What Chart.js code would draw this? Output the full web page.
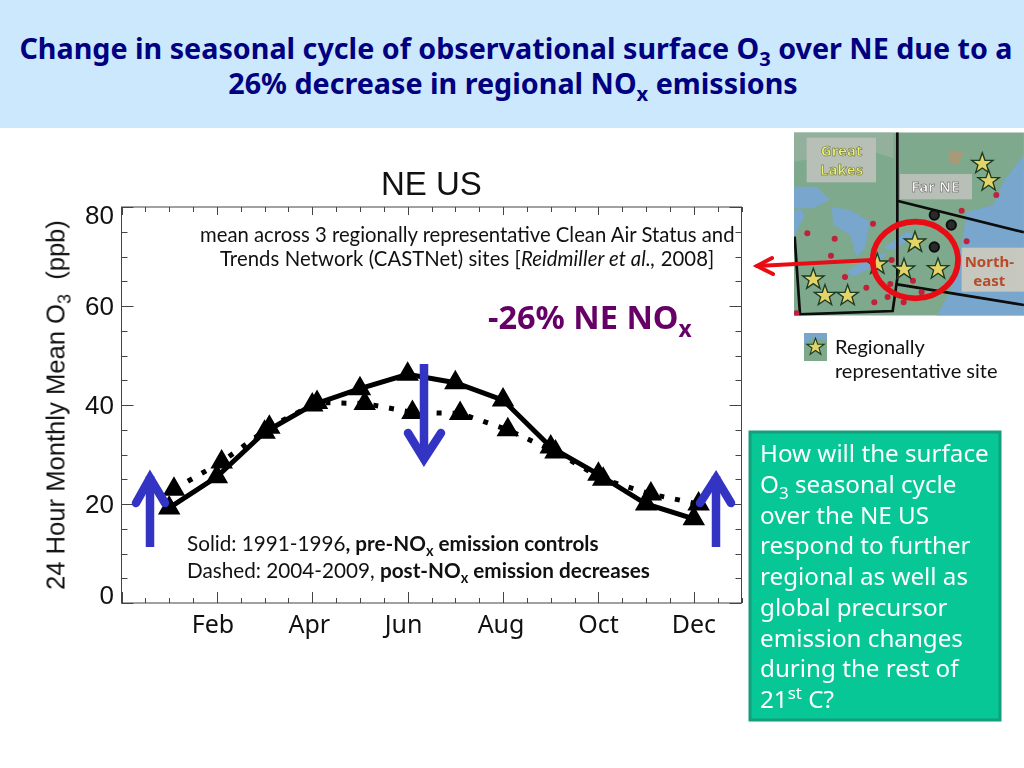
<!DOCTYPE html>
<html lang="en">
  <head>
    <meta charset="UTF-8" />
    <title>NE US surface O3</title>
    <script src="https://cdn.jsdelivr.net/npm/chart.js"></script>
    <style>
      html, body { margin: 0; padding: 0; background: #fff; overflow: hidden; }
      #page { position: relative; width: 1024px; height: 768px; overflow: hidden; }
      #page div.t { position: absolute; white-space: nowrap; }
      #header { position: absolute; left: 0; top: 0; width: 1024px; height: 128px; background: #cce8fc; }
      #chartCanvas, #overlay { position: absolute; left: 0; top: 0; }
      .title { left: 0; width: 1032px; text-align: center; font: bold 28.7px "Noto Sans", sans-serif; color: #000080; }
      .note { font: 20.3px Lato, sans-serif; color: #111; }
      .note2 { font: 20.7px Lato, sans-serif; color: #111; }
      .legend { font: 20px Lato, sans-serif; color: #111; }
      .box { font: 24.2px "Noto Sans", sans-serif; color: #fff; left: 760px; }
      sub, sup { font-size: 70%; line-height: 0; }
    </style>
  </head>
  <body>
    <div id="page">
      <div id="header"></div>
      <div class="t title" style="top: 28px">Change in seasonal cycle of observational surface O<sub>3</sub> over NE due to a</div>
      <div class="t title" style="top: 63px; width: 1026px">26% decrease in regional NO<sub>x</sub> emissions</div>

      <canvas id="chartCanvas" width="1024" height="768"></canvas>

      <div class="t" style="left: 381px; top: 165px; font: 33px 'Liberation Sans', sans-serif; color: #111">NE US</div>
      <div class="t" style="left: 56px; top: 405px; transform: translate(-50%, -50%) rotate(-90deg); font: 25.6px 'Liberation Sans', sans-serif; color: #111">24 Hour Monthly Mean O<sub>3</sub>&nbsp; (ppb)</div>

      <div class="t note" style="left: 200px; top: 222px">mean across 3 regionally representative Clean Air Status and</div>
      <div class="t note" style="left: 220px; top: 246px; letter-spacing: 0.09px">Trends Network (CASTNet) sites [<i>Reidmiller et al.,</i> 2008]</div>
      <div class="t" style="left: 488px; top: 294px; font: bold 32.5px 'Noto Sans', sans-serif; color: #660066">-26% NE NO<sub>x</sub></div>
      <div class="t note2" style="left: 187px; top: 531px">Solid: 1991-1996<b>, pre-NO<sub>x</sub> emission controls</b></div>
      <div class="t note2" style="left: 187px; top: 558px">Dashed: 2004-2009, <b>post-NO<sub>x</sub> emission decreases</b></div>

      <svg id="overlay" width="1024" height="768" xmlns="http://www.w3.org/2000/svg">
        <defs>
          <polygon id="star" points="0,-33 8,-10 32,-10 13,4 20,27 0,13 -20,27 -13,4 -32,-10 -8,-10" fill="#e4d468" stroke="#1c3a20" stroke-width="4" />
          <clipPath id="mapClip"><rect x="132" y="22" width="690" height="550" /></clipPath>
          <filter id="soft"><feGaussianBlur stdDeviation="1.6" /></filter>
        </defs>
        <!-- blue arrows on the plot -->
        <g fill="none" stroke="#3333c4" stroke-width="8.5" stroke-linecap="round" stroke-linejoin="miter">
          <path d="M150 547 V476" stroke-linecap="butt" />
          <path d="M136 503 L150 478 L165 503" />
          <path d="M716 547 V476" stroke-linecap="butt" />
          <path d="M700 503 L716 478 L731 503" />
          <path d="M424 364 V458" stroke-linecap="butt" />
          <path d="M408 433 L424 459 L441 433" />
        </g>
        <!-- map inset, drawn in 3x crop units -->
        <g transform="translate(750 125) scale(0.3333)" clip-path="url(#mapClip)">
          <g filter="url(#soft)">
            <rect x="132" y="22" width="690" height="550" fill="#7ea98d" />
            <path d="M132 22 H430 V100 L340 70 L250 90 L132 110 Z" fill="#93b09c" />
            <path d="M132 185 L200 185 L240 225 L190 250 L132 250 Z M132 335 L165 270 L150 250 L132 260 Z" fill="#78a6cc" />
            <path d="M245 245 L300 255 L360 290 L345 370 L320 395 L300 330 L250 300 Z" fill="#78a6cc" />
            <path d="M290 440 L370 390 L410 385 L380 420 L310 455 Z M400 370 L470 320 L500 330 L430 375 Z" fill="#78a6cc" />
            <path d="M822 90 L760 170 L730 240 L650 260 L640 330 L620 420 L600 500 L560 572 H822 Z" fill="#78a6cc" />
            <path d="M640 80 L600 75 L595 110 L625 120 Z" fill="#a89a78" />
            <rect x="170" y="38" width="208" height="134" fill="#b8bfb6" />
            <rect x="450" y="147" width="216" height="76" fill="#b8bfb6" />
            <rect x="635" y="368" width="187" height="132" fill="#c6c8c0" />
            <g fill="none" stroke="#0a0a0a" stroke-width="8">
              <path d="M442 22 V460 L428 558 L150 568 L134 335" />
              <path d="M444 228 L822 322" />
              <path d="M442 478 L822 540" />
            </g>
            <g fill="#c0203a">
              <circle cx="172" cy="325" r="9" /><circle cx="254" cy="341" r="9" /><circle cx="369" cy="296" r="9" />
              <circle cx="243" cy="392" r="9" /><circle cx="285" cy="456" r="9" /><circle cx="349" cy="488" r="9" />
              <circle cx="373" cy="532" r="9" /><circle cx="413" cy="516" r="9" /><circle cx="425" cy="405" r="9" />
              <circle cx="421" cy="477" r="9" /><circle cx="489" cy="467" r="9" /><circle cx="515" cy="502" r="9" />
              <circle cx="461" cy="532" r="9" /><circle cx="139" cy="565" r="9" /><circle cx="635" cy="257" r="9" />
              <circle cx="739" cy="210" r="9" /><circle cx="650" cy="349" r="9" />
            </g>
            <g fill="#2a2a2a" stroke="#111" stroke-width="6">
              <circle cx="553" cy="270" r="14" /><circle cx="604" cy="300" r="14" /><circle cx="553" cy="366" r="14" />
            </g>
            <use href="#star" x="697" y="116" /><use href="#star" x="716" y="168" />
            <use href="#star" x="495" y="352" /><use href="#star" x="462" y="433" />
            <use href="#star" x="564" y="432" /><use href="#star" x="382" y="418" />
            <use href="#star" x="190" y="463" /><use href="#star" x="225" y="512" /><use href="#star" x="293" y="512" />
          </g>
          <g font-family="Noto Sans" font-weight="bold" font-size="45" text-anchor="middle">
            <text x="275" y="92" fill="#eef070" stroke="#55603a" stroke-width="1.5">Great</text>
            <text x="275" y="150" fill="#eef070" stroke="#55603a" stroke-width="1.5">Lakes</text>
            <text x="556" y="202" fill="#f8f8f8" stroke="#555" stroke-width="1.5">Far NE</text>
            <text x="718" y="427" fill="#b84a28">North-</text>
            <text x="718" y="482" fill="#b84a28">east</text>
          </g>
          <ellipse cx="496" cy="405" rx="128" ry="115" fill="none" stroke="#e80c14" stroke-width="17" />
        </g>
        <!-- red arrow from the map -->
        <g fill="none" stroke="#e80c14" stroke-width="4" stroke-linecap="round">
          <path d="M757 266 L872 260" />
          <path d="M772 258 L757 266 L773 274" />
        </g>
        <!-- legend swatch -->
        <rect x="804" y="333" width="23" height="28" fill="#7ea98d" />
        <path d="M804 333 H827 V340 L812 338 L804 345 Z" fill="#78a6cc" />
        <g transform="translate(815.5 347) scale(0.27)"><use href="#star" /></g>
        <!-- green panel -->
        <rect x="750" y="432" width="250" height="288" fill="#06c795" stroke="#12a07c" stroke-width="3" />
      </svg>

      <div class="t legend" style="left: 835px; top: 334px">Regionally</div>
      <div class="t legend" style="left: 835px; top: 358px">representative site</div>

      <div class="t box" style="top: 436px">How will the surface</div>
      <div class="t box" style="top: 467px">O<sub>3</sub> seasonal cycle</div>
      <div class="t box" style="top: 498px">over the NE US</div>
      <div class="t box" style="top: 528px">respond to further</div>
      <div class="t box" style="top: 559px">regional as well as</div>
      <div class="t box" style="top: 590px">global precursor</div>
      <div class="t box" style="top: 621px">emission changes</div>
      <div class="t box" style="top: 651px">during the rest of</div>
      <div class="t box" style="top: 682px">21<sup>st</sup> C?</div>
    </div>

    <script>
      const monthNames = ["Jan", "Feb", "Mar", "Apr", "May", "Jun", "Jul", "Aug", "Sep", "Oct", "Nov", "Dec"];
      const monthsPre = [1, 2, 3, 4, 5, 6, 7, 8, 9, 10, 11, 12];
      const monthsPost = [1.1, 2.1, 3.1, 4.1, 5.1, 6.1, 7.1, 8.1, 9.1, 10.1, 11.1, 12.1];
      const preNox = [19.2, 25.5, 34.5, 40, 43.3, 46.2, 44.5, 41, 31.5, 26, 20, 17];
      const postNox = [23, 28.5, 35.5, 40.5, 40.3, 38.5, 38.3, 35, 30.5, 25, 22, 20];

      function toPoints(xs, ys) {
        return xs.map((x, i) => ({ x: x, y: ys[i] }));
      }

      // frame, inward ticks and the hand-nudged axis labels of the original
      const axisFrame = {
        id: "axisFrame",
        afterDraw(chart) {
          const c = chart.ctx;
          const a = chart.chartArea;
          c.save();
          c.strokeStyle = "#444";
          c.lineWidth = 1;
          c.strokeRect(a.left, a.top, a.right - a.left, a.bottom - a.top);
          c.beginPath();
          chart.scales.x.ticks.forEach((t) => {
            const px = Math.round(chart.scales.x.getPixelForValue(t.value)) + 0.5;
            const major = t.value % 2 === 0;
            c.moveTo(px, a.bottom);
            c.lineTo(px, a.bottom - (major ? 11 : 5));
            c.moveTo(px, a.top);
            c.lineTo(px, a.top + (major ? 8 : 5));
          });
          chart.scales.y.ticks.forEach((t) => {
            const py = Math.round(chart.scales.y.getPixelForValue(t.value)) + 0.5;
            const major = t.value % 20 === 0;
            c.moveTo(a.left, py);
            c.lineTo(a.left + (major ? 12 : 6), py);
            c.moveTo(a.right, py);
            c.lineTo(a.right - (major ? 12 : 6), py);
          });
          c.stroke();

          c.fillStyle = "#111";
          c.textBaseline = "middle";
          c.font = '26px "Liberation Sans", sans-serif';
          c.textAlign = "right";
          const yNudge = { 80: 10, 60: 2, 40: 2, 20: 2, 0: -6 };
          chart.scales.y.ticks.forEach((t) => {
            if (t.label) c.fillText(t.label, 114, chart.scales.y.getPixelForValue(t.value) + yNudge[t.value]);
          });
          c.font = '25px "Noto Sans", sans-serif';
          c.textAlign = "center";
          const xNudge = { 2: -4, 4: -3, 6: -4, 8: -2, 10: 0, 12: 0 };
          chart.scales.x.ticks.forEach((t) => {
            if (t.label) c.fillText(t.label, chart.scales.x.getPixelForValue(t.value) + xNudge[t.value], 626);
          });
          c.restore();
        },
      };

      new Chart(document.getElementById("chartCanvas"), {
        type: "line",
        plugins: [axisFrame],
        data: {
          datasets: [
            {
              label: "Solid: 1991-1996, pre-NOx emission controls",
              data: toPoints(monthsPre, preNox),
              borderColor: "#000",
              backgroundColor: "#000",
              borderWidth: 5,
              pointStyle: "triangle",
              pointRadius: 8,
              tension: 0,
            },
            {
              label: "Dashed: 2004-2009, post-NOx emission decreases",
              data: toPoints(monthsPost, postNox),
              borderColor: "#000",
              backgroundColor: "#000",
              borderWidth: 5,
              borderDash: [5, 11],
              pointStyle: "triangle",
              pointRadius: 8,
              tension: 0,
            },
          ],
        },
        options: {
          responsive: false,
          animation: false,
          layout: { padding: { left: 121.5, right: 282.5, top: 207, bottom: 165 } },
          plugins: { legend: { display: false }, tooltip: { enabled: false } },
          scales: {
            x: {
              type: "linear",
              min: 0,
              max: 13,
              grid: { display: false },
              border: { display: false },
              afterFit(scale) { scale.height = 0; },
              ticks: {
                display: false,
                stepSize: 0.5,
                autoSkip: false,
                callback: (v) => (v % 2 === 0 && v > 0 ? monthNames[v - 1] : ""),
              },
            },
            y: {
              min: 0,
              max: 80,
              grid: { display: false },
              border: { display: false },
              afterFit(scale) { scale.width = 0; },
              ticks: {
                display: false,
                stepSize: 5,
                autoSkip: false,
                callback: (v) => (v % 20 === 0 ? String(v) : ""),
              },
            },
          },
        },
      });
    </script>
  </body>
</html>
